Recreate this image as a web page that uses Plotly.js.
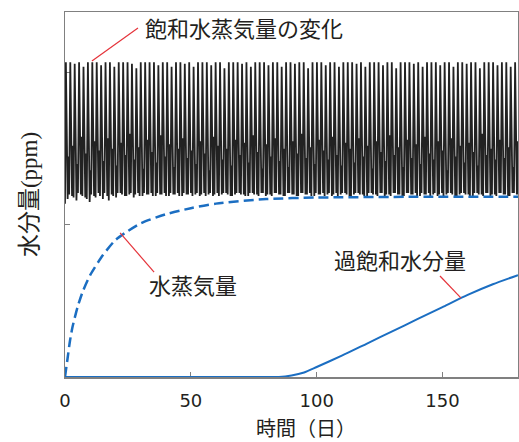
<!DOCTYPE html>
<html>
<head>
<meta charset="utf-8">
<script src="https://cdn.plot.ly/plotly-3.0.1.min.js"></script>
<style>html,body{margin:0;padding:0;background:#fff;}#chart{width:519px;height:442px;}</style>
</head>
<body>
<div id="chart"></div>
<script>
// ---- Data ----
// Saturated water vapour: oscillation (one cycle ≈ 1.75 days)
const satStart = 1.14;
const satPeak = [
2.07,2.07,2.06,2.07,2.04,2.07,2.07,2.07,2.05,2.07,
2.07,2.04,2.07,2.07,2.07,2.06,2.03,2.07,2.07,2.07,
2.07,2.05,2.07,2.07,2.04,2.07,2.07,2.06,2.07,2.04,
2.07,2.07,2.07,2.05,2.07,2.07,2.03,2.07,2.07,2.07,
2.06,2.07,2.04,2.07,2.07,2.07,2.05,2.07,2.07,2.04,
2.07,2.07,2.06,2.07,2.07,2.03,2.07,2.07,2.07,2.05,
2.07,2.07,2.04,2.07,2.07,2.07,2.06,2.07,2.04,2.07,
2.07,2.07,2.05,2.07,2.07,2.03,2.07,2.07,2.07,2.06,
2.07,2.04,2.07,2.07,2.07,2.05,2.07,2.07,2.04,2.07,
2.07,2.06,2.07,2.07,2.03,2.07,2.07,2.07,2.05,2.07,
2.07,2.04,2.07];
const satLow = [
1.17,1.19,1.16,1.20,1.18,1.15,1.19,1.21,1.17,1.19,
1.20,1.18,1.21,1.19,1.20,1.18,1.21,1.19,1.20,1.21,
1.19,1.20,1.21,1.19,1.20,1.21,1.19,1.20,1.21,1.20,
1.19,1.21,1.20,1.19,1.21,1.20,1.21,1.19,1.20,1.21,
1.20,1.19,1.21,1.20,1.21,1.19,1.20,1.21,1.20,1.19,
1.21,1.20,1.19,1.21,1.20,1.21,1.19,1.20,1.21,1.20,
1.19,1.21,1.20,1.21,1.19,1.20,1.21,1.20,1.19,1.21,
1.20,1.21,1.19,1.20,1.21,1.20,1.19,1.21,1.20,1.21,
1.19,1.20,1.21,1.20,1.19,1.21,1.20,1.21,1.19,1.20,
1.21,1.20,1.19,1.21,1.20,1.21,1.19,1.20,1.21,1.20,
1.19,1.21,1.20];
const satRebound = [
1.45,1.52,1.40,1.58,1.47,1.36,1.55,1.49,1.42,1.57,
1.50,1.39,1.54,1.46,1.60,1.43,1.51,1.37,1.56,1.48,
1.41,1.59,1.45,1.53,1.38,1.50,1.57,1.44,1.49,1.40,
1.55,1.47,1.36,1.58,1.52,1.43,1.50,1.39,1.56,1.46,
1.54,1.41,1.59,1.48,1.37,1.53,1.45,1.57,1.42,1.50,
1.38,1.55,1.47,1.60,1.44,1.51,1.40,1.56,1.49,1.43,
1.58,1.46,1.39,1.54,1.50,1.41,1.57,1.45,1.52,1.37,
1.55,1.48,1.42,1.59,1.46,1.51,1.38,1.56,1.44,1.53,
1.40,1.58,1.47,1.43,1.55,1.49,1.36,1.57,1.45,1.52,
1.41,1.54,1.48,1.39,1.60,1.46,1.50,1.43,1.56,1.44,
1.51,1.38,1.55];
const satLow2 = [
1.20,1.18,1.21,1.19,1.17,1.20,1.18,1.19,1.21,1.16,
1.19,1.21,1.20,1.19,1.21,1.20,1.19,1.21,1.20,1.19,
1.21,1.20,1.19,1.21,1.20,1.19,1.21,1.20,1.19,1.21,
1.20,1.19,1.21,1.20,1.19,1.21,1.20,1.19,1.21,1.20,
1.19,1.21,1.20,1.19,1.21,1.20,1.19,1.21,1.20,1.19,
1.21,1.20,1.19,1.21,1.20,1.19,1.21,1.20,1.19,1.21,
1.20,1.19,1.21,1.20,1.19,1.21,1.20,1.19,1.21,1.20,
1.19,1.21,1.20,1.19,1.21,1.20,1.19,1.21,1.20,1.19,
1.21,1.20,1.19,1.21,1.20,1.19,1.21,1.20,1.19,1.21,
1.20,1.19,1.21,1.20,1.19,1.21,1.20,1.19,1.21,1.20,
1.19,1.21,1.20];

// Water vapour (dashed blue)
const vapDays = [0, 1, 2, 3, 5, 7, 10, 15, 20, 25, 30, 40, 50, 60, 80, 100, 140, 180];
const vapVals = [0, 0.12, 0.24, 0.33, 0.46, 0.56, 0.67, 0.80, 0.90, 0.96, 1.01, 1.07, 1.11, 1.14, 1.17, 1.18, 1.185, 1.185];

// Supersaturated water (solid blue)
const superDays = [0, 80, 85, 90, 95, 100, 110, 120, 130, 140, 150, 160, 170, 180];
const superVals = [0, 0, 0, 0.01, 0.03, 0.066, 0.14, 0.22, 0.30, 0.38, 0.46, 0.54, 0.61, 0.67];

// Labels
const xTickVals = [0, 50, 100, 150];
const yTickVals = [1, 2];
const labelSat = '飽和水蒸気量の変化';
const labelVap = '水蒸気量';
const labelSuper = '過飽和水分量';
const xTitle = '時間（日）';
const yTitle = '水分量<span style="font-family:\'Liberation Serif\'">(ppm)</span>';

// ---- Build oscillation sequence (time grid) ----
const cycle = 1.75;
const satX = [0], satY = [satStart];
for (let k = 0; k < satPeak.length; k++) {
  const t0 = 0.35 + k * cycle;
  satX.push(t0, t0 + 0.7, t0 + 1.0, t0 + 1.3);
  satY.push(satPeak[k], satLow[k], satRebound[k], satLow2[k]);
}

const blue = '#1b6ec2';
const red = '#e5333a';
const txt = '#231f20';
const cjk = "'Noto Sans CJK JP', 'Noto Sans CJK SC', sans-serif";

const traces = [
  {x: satX, y: satY, type: 'scatter', mode: 'lines', line: {color: '#222', width: 1.8}, hoverinfo: 'skip', showlegend: false},
  {x: vapDays, y: vapVals, type: 'scatter', mode: 'lines', line: {color: blue, width: 2.5, dash: '10px,5px', shape: 'spline', smoothing: 0.6}, showlegend: false},
  {x: superDays, y: superVals, type: 'scatter', mode: 'lines', line: {color: blue, width: 2, shape: 'spline', smoothing: 0.6}, showlegend: false}
];

const layout = {
  width: 519, height: 442,
  margin: {l: 65, r: 1, t: 12, b: 65, pad: 0},
  paper_bgcolor: '#fff', plot_bgcolor: '#fff',
  showlegend: false,
  xaxis: {
    range: [0, 180], tickvals: xTickVals, ticktext: xTickVals.map(String),
    ticks: 'inside', ticklen: 5, tickwidth: 1, tickcolor: '#808080',
    showline: true, mirror: true, linecolor: '#808080', linewidth: 1.5,
    showgrid: false, zeroline: false, layer: 'below traces',
    tickfont: {family: 'DejaVu Sans', size: 18, color: txt},
    ticklabelstandoff: 7,
    automargin: false
  },
  yaxis: {
    range: [0, 2.4], tickvals: yTickVals, showticklabels: false,
    ticks: 'inside', ticklen: 5, tickwidth: 1, tickcolor: '#808080',
    showline: true, mirror: true, linecolor: '#808080', linewidth: 1.5,
    showgrid: false, zeroline: false, layer: 'below traces',
    title: {text: yTitle, font: {family: cjk, size: 23, color: txt}, standoff: 19},
    automargin: false
  },
  shapes: [
    {type: 'line', xref: 'x', yref: 'y', x0: 10.7, y0: 2.078, x1: 29.0, y1: 2.295, line: {color: red, width: 1.2}},
    {type: 'line', xref: 'x', yref: 'y', x0: 21.9, y0: 0.947, x1: 35.4, y1: 0.690, line: {color: red, width: 1.2}},
    {type: 'line', xref: 'x', yref: 'y', x0: 149.0, y0: 0.664, x1: 157.3, y1: 0.52, line: {color: red, width: 1.2}}
  ],
  annotations: [
    {x: 31, y: 2.30, xref: 'x', yref: 'y', text: labelSat, showarrow: false, xanchor: 'left', yanchor: 'middle', font: {family: cjk, size: 22, color: txt}},
    {x: 32.6, y: 0.611, xref: 'x', yref: 'y', text: labelVap, showarrow: false, xanchor: 'left', yanchor: 'middle', font: {family: cjk, size: 22, color: txt}},
    {x: 106, y: 0.776, xref: 'x', yref: 'y', text: labelSuper, showarrow: false, xanchor: 'left', yanchor: 'middle', font: {family: cjk, size: 22, color: txt}},
    {x: 95.7, y: -0.137, xref: 'x', yref: 'paper', text: xTitle, showarrow: false, xanchor: 'center', yanchor: 'middle', borderpad: 0, font: {family: cjk, size: 20, color: txt}}
  ]
};

Plotly.newPlot('chart', traces, layout, {displayModeBar: false, staticPlot: true});
</script>
</body>
</html>
